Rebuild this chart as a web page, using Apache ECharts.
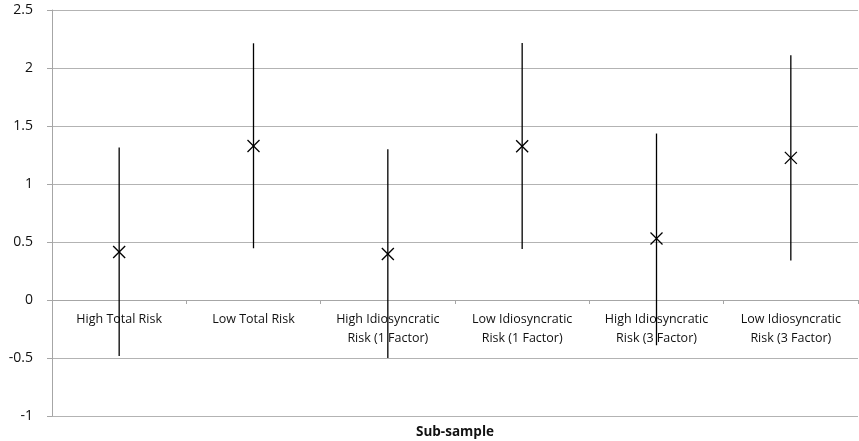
<!DOCTYPE html>
<html><head><meta charset="utf-8">
<script src="https://cdn.jsdelivr.net/npm/echarts@6/dist/echarts.min.js"></script>
<style>html,body{margin:0;padding:0;background:#fff}#c{width:859px;height:441px}</style>
</head><body><div id="c"></div>
<script>
var categories = ["High Total Risk", "Low Total Risk", "High Idiosyncratic\nRisk (1 Factor)", "Low Idiosyncratic\nRisk (1 Factor)", "High Idiosyncratic\nRisk (3 Factor)", "Low Idiosyncratic\nRisk (3 Factor)"];
var estimates = [0.414, 1.328, 0.397, 1.325, 0.53, 1.225];
var upper = [1.315, 2.213, 1.30, 2.215, 1.435, 2.11];
var lower = [-0.483, 0.446, -0.50, 0.44, -0.39, 0.34];
var yTicks = {min: -1, max: 2.5, interval: 0.5};

var rows = categories.map(function(c, i){ return [i, estimates[i], lower[i], upper[i]]; });
var chart = echarts.init(document.getElementById('c'));
var font = '"Open Sans", "Noto Sans", sans-serif';
chart.setOption({
  animation: false,
  grid: {left: 52, right: 1, top: 10, bottom: 25, containLabel: false, outerBoundsMode: 'none'},
  xAxis: {
    type: 'category', data: categories, offset: 0,
    axisLine: {onZero: false, lineStyle: {color: '#a6a6a6', width: 1}},
    axisTick: {show: true, alignWithLabel: false, length: 4, lineStyle: {color: '#a6a6a6'}},
    axisLabel: {interval: 0, color: '#111', fontSize: 12.5, fontFamily: font, lineHeight: 19, margin: 10},
    splitLine: {show: false}
  },
  yAxis: {
    type: 'value', min: yTicks.min, max: yTicks.max, interval: yTicks.interval,
    axisLine: {show: true, lineStyle: {color: '#a6a6a6'}},
    axisTick: {show: true, length: 5, lineStyle: {color: '#a6a6a6'}},
    axisLabel: {color: '#111', fontSize: 14, fontFamily: font, margin: 19},
    splitLine: {lineStyle: {color: '#b3b3b3', width: 1}}
  },
  graphic: [{type: 'text', x: 455, y: 432, style: {text: 'Sub-sample', fontSize: 13.5, fontWeight: 'bold', fontFamily: font, fill: '#111', textAlign: 'center', textVerticalAlign: 'middle'}}],
  series: [{
    type: 'custom',
    data: rows,
    renderItem: function(params, api){
      var x = api.value(0);
      var top = api.coord([x, api.value(3)]);
      var bot = api.coord([x, api.value(2)]);
      var mid = api.coord([x, api.value(1)]);
      var s = 6;
      var st = {stroke: '#000', lineWidth: 1.3};
      return {type: 'group', children: [
        {type: 'line', shape: {x1: top[0], y1: top[1], x2: bot[0], y2: bot[1]}, style: st},
        {type: 'line', shape: {x1: mid[0]-s, y1: mid[1]-s, x2: mid[0]+s, y2: mid[1]+s}, style: st},
        {type: 'line', shape: {x1: mid[0]-s, y1: mid[1]+s, x2: mid[0]+s, y2: mid[1]-s}, style: st}
      ]};
    }
  }]
});
// place the category axis on the y = 0 line using the library's own scale
var pZero = chart.convertToPixel({yAxisIndex: 0}, 0);
var pMin = chart.convertToPixel({yAxisIndex: 0}, yTicks.min);
chart.setOption({xAxis: {offset: -(pMin - pZero)}});
</script></body></html>
